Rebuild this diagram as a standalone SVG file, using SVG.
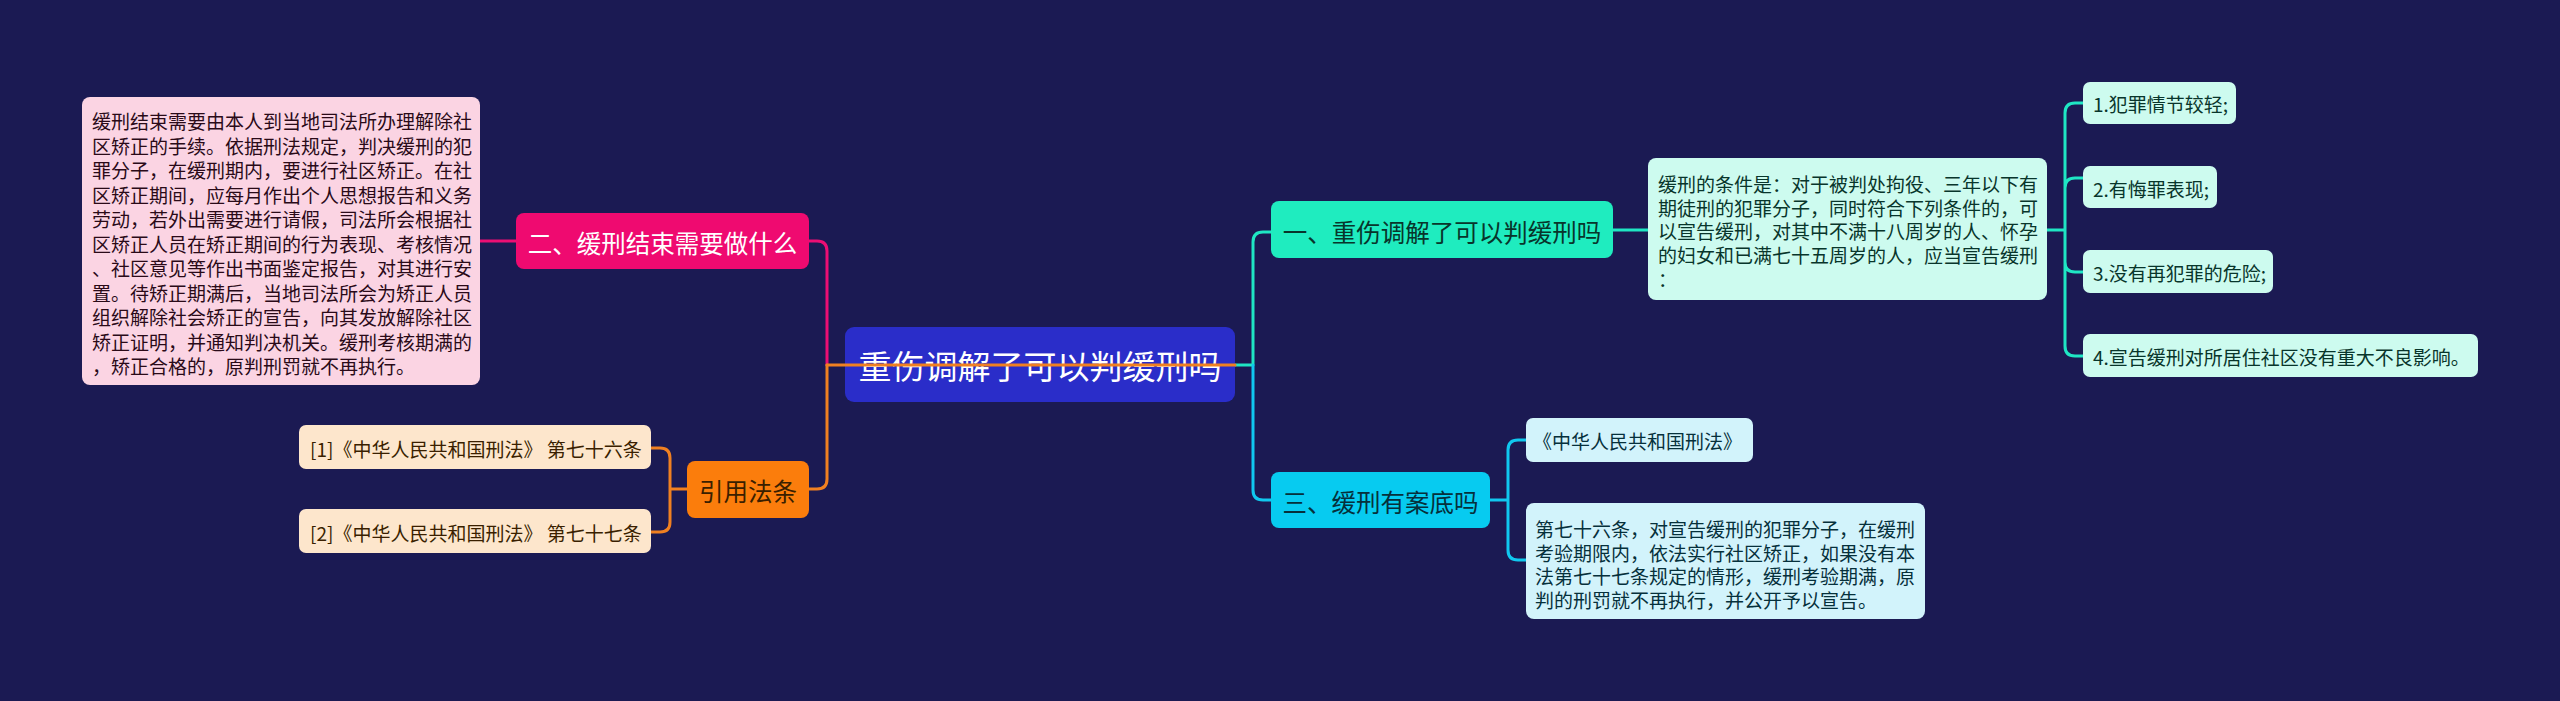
<svg xmlns="http://www.w3.org/2000/svg" width="2560" height="701" viewBox="0 0 2560 701">
<style>
text{font-family:"Noto Sans CJK SC","Noto Sans",sans-serif;dominant-baseline:central}
.c{fill:none;stroke-width:3;stroke-linecap:round;stroke-linejoin:round}
.t19{font-size:19px}
.t24{font-size:24.5px}
</style>
<rect width="2560" height="701" fill="#1b1a53"/>
<g id="connectors">
<path class="c" stroke="#ec0e74" d="M480,241 H516"/>
<path class="c" stroke="#ec0e74" d="M809,241 H817 Q827,241 827,251 V365"/>
<path class="c" stroke="#f08021" d="M651,448 H660 Q670,448 670,458 V522 Q670,532 660,532 H651 M670,489 H687"/>
<path class="c" stroke="#f08021" d="M809,489 H817 Q827,489 827,479 V365"/>
<path class="c" stroke="#1fe6c4" d="M1613,230 H1648"/>
<path class="c" stroke="#1fe6c4" d="M2047,230 H2065 M2083,103 H2075 Q2065,103 2065,113 V346 Q2065,356 2075,356 H2083 M2065,188 Q2065,178 2075,178 H2083 M2065,262 Q2065,272 2075,272 H2083"/>
<path class="c" stroke="#1fe6c4" d="M1235,365 H1253 V242 Q1253,232 1263,232 H1271"/>
<path class="c" stroke="#10c8ef" d="M1253,365 V490 Q1253,500 1263,500 H1271"/>
<path class="c" stroke="#10c8ef" d="M1490,500 H1508 M1526,440 H1518 Q1508,440 1508,450 V550 Q1508,560 1518,560 H1526"/>
</g>
<g id="root">
<rect x="845" y="327" width="390" height="75" rx="9" fill="#2a2dc9"/>
<text x="1040" y="365" font-size="33px" fill="#ffffff" text-anchor="middle">重伤调解了可以判缓刑吗</text>
</g>
<g id="root-line">
<path class="c" stroke="#f08021" d="M827,365 H1235"/>
</g>
<g id="n2">
<rect x="516" y="213" width="293" height="56" rx="8" fill="#ef0a70"/>
<text class="t24" x="662.5" y="242" fill="#ffffff" text-anchor="middle">二、缓刑结束需要做什么</text>
</g>
<g id="n2-leaf">
<rect x="82" y="97" width="398" height="288" rx="8" fill="#fbd4e3"/>
<text class="t19" fill="#2a0a18" x="92" y="120">
<tspan x="92" dy="0">缓刑结束需要由本人到当地司法所办理解除社</tspan>
<tspan x="92" dy="24.5">区矫正的手续。依据刑法规定，判决缓刑的犯</tspan>
<tspan x="92" dy="24.5">罪分子，在缓刑期内，要进行社区矫正。在社</tspan>
<tspan x="92" dy="24.5">区矫正期间，应每月作出个人思想报告和义务</tspan>
<tspan x="92" dy="24.5">劳动，若外出需要进行请假，司法所会根据社</tspan>
<tspan x="92" dy="24.5">区矫正人员在矫正期间的行为表现、考核情况</tspan>
<tspan x="92" dy="24.5">、社区意见等作出书面鉴定报告，对其进行安</tspan>
<tspan x="92" dy="24.5">置。待矫正期满后，当地司法所会为矫正人员</tspan>
<tspan x="92" dy="24.5">组织解除社会矫正的宣告，向其发放解除社区</tspan>
<tspan x="92" dy="24.5">矫正证明，并通知判决机关。缓刑考核期满的</tspan>
<tspan x="92" dy="24.5">，矫正合格的，原判刑罚就不再执行。</tspan>
</text>
</g>
<g id="n4">
<rect x="687" y="461" width="122" height="57" rx="8" fill="#fb7d0c"/>
<text class="t24" x="748" y="490" fill="#3a1f00" text-anchor="middle">引用法条</text>
</g>
<g id="n4-leaf1">
<rect x="299" y="425" width="352" height="44" rx="7" fill="#fde6cc"/>
<text class="t19" x="310" y="448" fill="#3a1f00">[1]《中华人民共和国刑法》 第七十六条</text>
</g>
<g id="n4-leaf2">
<rect x="299" y="509" width="352" height="44" rx="7" fill="#fde6cc"/>
<text class="t19" x="310" y="532" fill="#3a1f00">[2]《中华人民共和国刑法》 第七十七条</text>
</g>
<g id="n1">
<rect x="1271" y="201" width="342" height="57" rx="8" fill="#1fecbf"/>
<text class="t24" x="1442" y="231" fill="#08352b" text-anchor="middle">一、重伤调解了可以判缓刑吗</text>
</g>
<g id="n1-cond">
<rect x="1648" y="158" width="399" height="142" rx="8" fill="#cdfbef"/>
<text class="t19" fill="#08352b" x="1658" y="183">
<tspan x="1658" dy="0">缓刑的条件是：对于被判处拘役、三年以下有</tspan>
<tspan x="1658" dy="23.7">期徒刑的犯罪分子，同时符合下列条件的，可</tspan>
<tspan x="1658" dy="23.7">以宣告缓刑，对其中不满十八周岁的人、怀孕</tspan>
<tspan x="1658" dy="23.7">的妇女和已满七十五周岁的人，应当宣告缓刑</tspan>
<tspan x="1658" dy="23.7">：</tspan>
</text>
</g>
<g id="n1-c1">
<rect x="2083" y="82" width="153" height="42" rx="7" fill="#cdfbef"/>
<text class="t19" x="2093" y="103" fill="#08352b">1.犯罪情节较轻;</text>
</g>
<g id="n1-c2">
<rect x="2083" y="166" width="134" height="42" rx="7" fill="#cdfbef"/>
<text class="t19" x="2093" y="188" fill="#08352b">2.有悔罪表现;</text>
</g>
<g id="n1-c3">
<rect x="2083" y="250" width="190" height="43" rx="7" fill="#cdfbef"/>
<text class="t19" x="2093" y="272" fill="#08352b">3.没有再犯罪的危险;</text>
</g>
<g id="n1-c4">
<rect x="2083" y="334" width="395" height="43" rx="7" fill="#cdfbef"/>
<text class="t19" x="2093" y="356" fill="#08352b">4.宣告缓刑对所居住社区没有重大不良影响。</text>
</g>
<g id="n3">
<rect x="1271" y="472" width="219" height="56" rx="8" fill="#07cbf0"/>
<text class="t24" x="1380.5" y="501" fill="#06303b" text-anchor="middle">三、缓刑有案底吗</text>
</g>
<g id="n3-c1">
<rect x="1526" y="418" width="227" height="44" rx="7" fill="#d2f3fb"/>
<text class="t19" x="1533" y="440" fill="#06303b">《中华人民共和国刑法》</text>
</g>
<g id="n3-c2">
<rect x="1526" y="503" width="399" height="116" rx="8" fill="#d2f3fb"/>
<text class="t19" fill="#06303b" x="1535" y="528">
<tspan x="1535" dy="0">第七十六条，对宣告缓刑的犯罪分子，在缓刑</tspan>
<tspan x="1535" dy="23.5">考验期限内，依法实行社区矫正，如果没有本</tspan>
<tspan x="1535" dy="23.5">法第七十七条规定的情形，缓刑考验期满，原</tspan>
<tspan x="1535" dy="23.5">判的刑罚就不再执行，并公开予以宣告。</tspan>
</text>
</g>
</svg>
